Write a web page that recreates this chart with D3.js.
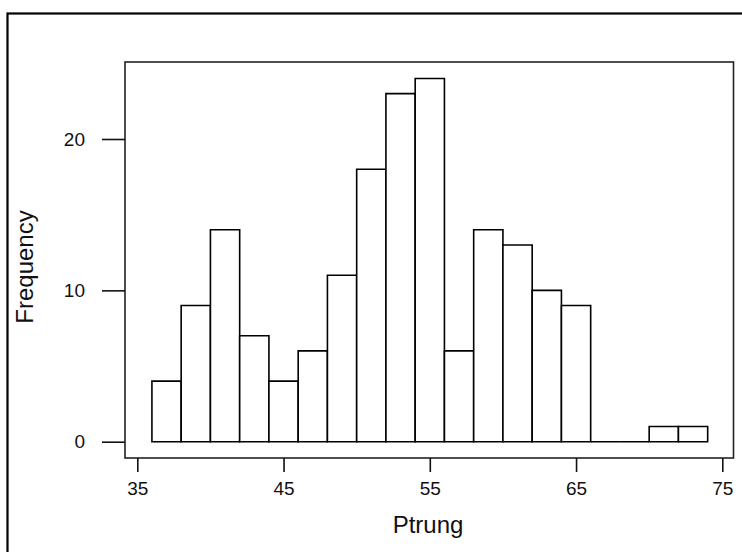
<!DOCTYPE html>
<html>
<head>
<meta charset="utf-8">
<script src="https://cdn.jsdelivr.net/npm/d3@7/dist/d3.min.js"></script>
<style>
html,body{margin:0;padding:0;background:#fff;}
svg{display:block;}
text{font-family:"Liberation Sans",Arial,sans-serif;fill:#111;}
</style>
</head>
<body>
<svg id="chart" width="742" height="552"></svg>
<script>
const binStarts = [36,38,40,42,44,46,48,50,52,54,56,58,60,62,64,66,68,70,72];
const binWidth = 2;
const frequencies = [4,9,14,7,4,6,11,18,23,24,6,14,13,10,9,0,0,1,1];
const xTicks = [35,45,55,65,75];
const yTicks = [0,10,20];
const xTitle = "Ptrung";
const yTitle = "Frequency";

const svg = d3.select("#chart");

// outer frame (extends past the right and bottom edges)
svg.append("rect")
  .attr("x",7.5).attr("y",13.5).attr("width",760).attr("height",560)
  .attr("fill","#fff").attr("stroke","#000").attr("stroke-width",2.2);

const x = d3.scaleLinear().domain([35,75]).range([137.3,722.3]);
const y = d3.scaleLinear().domain([0,20]).range([441.7,139]);

const box = {l:125, t:62, r:733.5, b:458};

// plot box
svg.append("rect")
  .attr("x",box.l).attr("y",box.t)
  .attr("width",box.r-box.l).attr("height",box.b-box.t)
  .attr("fill","none").attr("stroke","#222").attr("stroke-width",1.6);

// bars
const bins = binStarts.map((s,i)=>({x0:s,x1:s+binWidth,v:frequencies[i]}));
svg.append("g").selectAll("path").data(bins).join("path")
  .attr("d",d=>{
    const x0=x(d.x0), x1=x(d.x1), y0=y(0), y1=y(d.v);
    return `M${x0},${y0}V${y1}H${x1}V${y0}Z`;
  })
  .attr("fill","#fff").attr("stroke","#000").attr("stroke-width",1.6)
  .attr("stroke-linejoin","miter");

// x axis
const xAxis = svg.append("g")
  .attr("transform",`translate(0,${box.b})`)
  .call(d3.axisBottom(x).tickValues(xTicks).tickSize(14).tickPadding(10).tickFormat(d3.format("d")));
xAxis.select(".domain").remove();
xAxis.selectAll(".tick line").attr("stroke","#111").attr("stroke-width",1.6);
xAxis.selectAll(".tick text").attr("font-size",19).attr("fill","#111")
  .style("font-family","'Liberation Sans',Arial,sans-serif");

// y axis
const yAxis = svg.append("g")
  .attr("transform",`translate(${box.l},0)`)
  .call(d3.axisLeft(y).tickValues(yTicks).tickSize(23).tickPadding(17).tickFormat(d3.format("d")));
yAxis.select(".domain").remove();
yAxis.selectAll(".tick line").attr("stroke","#111").attr("stroke-width",1.6);
yAxis.selectAll(".tick text").attr("font-size",19).attr("fill","#111")
  .style("font-family","'Liberation Sans',Arial,sans-serif");

// titles
svg.append("text")
  .attr("x",428).attr("y",533)
  .attr("text-anchor","middle").attr("font-size",24)
  .text(xTitle);

svg.append("text")
  .attr("transform","translate(33,267) rotate(-90)")
  .attr("text-anchor","middle").attr("font-size",24)
  .text(yTitle);
</script>
</body>
</html>
